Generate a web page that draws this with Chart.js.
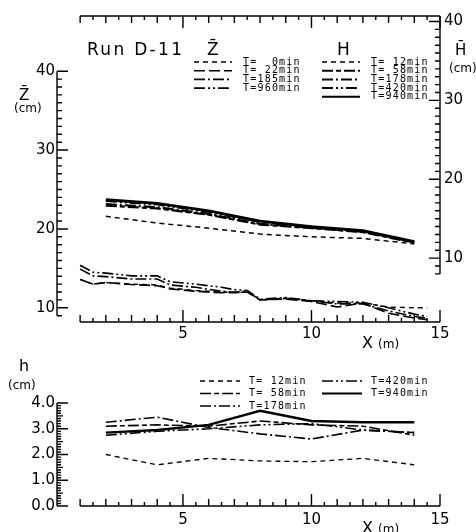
<!DOCTYPE html>
<html>
<head>
<meta charset="utf-8">
<title>Run D-11</title>
<script src="https://cdn.jsdelivr.net/npm/chart.js@4.4.1/dist/chart.umd.min.js"></script>
<style>
    html, body { margin: 0; padding: 0; background: #fff; }
    body { position: relative; width: 476px; height: 532px; overflow: hidden; }
    .panel { position: absolute; left: 0; width: 476px; }
    #topPanel { top: 0; height: 345px; }
    #botPanel { top: 345px; height: 187px; }
    .lbl { position: absolute; font-family: "DejaVu Sans", sans-serif; color: #000; white-space: pre; line-height: 1; }
</style>
</head>
<body>
<div class="panel" id="topPanel"><canvas id="topChart"></canvas></div>
<div class="panel" id="botPanel"><canvas id="botChart"></canvas></div>

<div class="lbl" style="left:87px; top:41px; font-size:17px; letter-spacing:2.3px;">Run D-11</div>
<div class="lbl" style="left:207px; top:41px; font-size:17px;">Z̄</div>
<div class="lbl" style="left:337px; top:41px; font-size:17px;">H</div>
<div class="lbl" style="left:455px; top:43px; font-size:15px;">H̄</div>
<div class="lbl" style="left:449px; top:62px; font-size:12px;">(cm)</div>
<div class="lbl" style="left:19px; top:88px; font-size:15px;">Z̄</div>
<div class="lbl" style="left:14px; top:102px; font-size:12px;">(cm)</div>
<div class="lbl" style="left:362px; top:335px; font-size:16px;">X <span style="font-size:12px">(m)</span></div>
<div class="lbl" style="left:19px; top:358px; font-size:16px;">h</div>
<div class="lbl" style="left:8px; top:379px; font-size:12px;">(cm)</div>
<div class="lbl" style="left:362px; top:520px; font-size:16px;">X <span style="font-size:12px">(m)</span></div>

<script>
// ====== Data ======
// bed elevation Z (cm), left axis of the upper panel
const zX = [1, 1.5, 2, 3, 4, 4.5, 5.5, 6.5, 7, 7.5, 8, 9, 10, 11, 12, 13, 14, 14.5];
const zTimes = [0, 22, 185, 960];
const zT0   = [13.6, 13.0, 13.2, 13.0, 12.9, 12.5, 12.2, 12.0, 11.95, 12.0, 11.0, 11.2, 10.9, 10.6, 10.6, 10.1, 10.0, 10.0];
const zT22  = [13.6, 13.0, 13.2, 12.95, 12.8, 12.4, 12.1, 11.9, 11.9, 12.0, 11.0, 11.1, 10.8, 10.1, 10.6, 9.3, 8.7, 8.5];
const zT185 = [14.9, 14.05, 13.95, 13.65, 13.65, 12.9, 12.6, 12.1, 12.0, 12.1, 11.0, 11.2, 10.85, 10.5, 10.5, 9.6, 8.9, 8.7];
const zT960 = [15.4, 14.5, 14.4, 14.05, 14.05, 13.3, 13.0, 12.6, 12.3, 12.2, 11.1, 11.3, 10.9, 10.8, 10.7, 10.0, 9.2, 8.9];

// water surface H (cm), right axis of the upper panel
const hX = [2, 4, 6, 8, 10, 12, 14];
const hTimes = [12, 58, 178, 420, 940];
const hT12  = [15.3, 14.45, 13.8, 13.05, 12.7, 12.5, 11.8];
const hT58  = [16.65, 16.3, 15.5, 14.25, 13.8, 13.3, 11.95];
const hT178 = [16.85, 16.45, 15.6, 14.35, 13.85, 13.35, 12.0];
const hT420 = [17.25, 16.8, 15.85, 14.6, 13.95, 13.4, 12.0];
const hT940 = [17.4, 16.95, 16.0, 14.7, 14.0, 13.5, 12.1];

// water depth h (cm), lower panel
const dT12  = [2.0, 1.6, 1.85, 1.75, 1.72, 1.85, 1.6];
const dT58  = [3.1, 3.15, 3.1, 3.3, 3.15, 3.1, 2.75];
const dT178 = [3.25, 3.45, 3.05, 2.8, 2.6, 2.95, 2.85];
const dT420 = [2.75, 2.9, 3.0, 3.15, 3.2, 2.95, 2.85];
const dT940 = [2.85, 2.95, 3.15, 3.7, 3.3, 3.25, 3.25];

// tick labels
const xTicks = [5, 10, 15];
const zTicks = [10, 20, 30, 40];
const hTicks = [10, 20, 30, 40];
const depthTicks = [0, 1, 2, 3, 4];

// ====== Styles ======
const FONT = "'DejaVu Sans', sans-serif";
Chart.defaults.font.family = FONT;
Chart.defaults.color = "#000";

const DASH = {
    short: [5, 4],
    long: [11, 4],
    longShort: [11, 3, 5, 3],
    dashDot: [11, 3, 2, 3],
    dashDotDot: [11, 3, 2, 3, 2, 3],
    solid: []
};

const tLabel = (t) => "T=" + String(t).padStart(3, " ") + "min";
const pts = (xs, ys) => xs.map((x, i) => ({ x, y: ys[i] }));

function series(label, xs, ys, dash, width, axis) {
    return {
        label,
        data: pts(xs, ys),
        borderColor: "#000",
        backgroundColor: "#000",
        borderWidth: width,
        borderDash: dash,
        pointRadius: 0,
        tension: 0,
        fill: false,
        yAxisID: axis
    };
}

// ====== Plugins ======
// inward tick marks and axis lines
function tickLen(v, steps) {
    for (const [s, len] of steps) {
        if (Math.abs(v / s - Math.round(v / s)) < 1e-6) return len;
    }
    return 0;
}

const axisFrame = {
    id: "axisFrame",
    afterDatasetsDraw(chart, args, opts) {
        const ctx = chart.ctx;
        const area = chart.chartArea;
        const xs = chart.scales.x;
        ctx.save();
        ctx.strokeStyle = "#000";
        ctx.lineWidth = 1.4;
        ctx.setLineDash([]);

        (opts.xLines || []).forEach((ax) => {
            const y0 = ax.edge === "top" ? area.top : area.bottom;
            ctx.beginPath();
            ctx.moveTo(xs.getPixelForValue(ax.from), y0);
            ctx.lineTo(xs.getPixelForValue(ax.to), y0);
            for (let i = Math.round(ax.from / ax.step); i <= Math.round(ax.to / ax.step); i++) {
                const v = i * ax.step;
                const px = xs.getPixelForValue(v);
                ctx.moveTo(px, y0);
                ctx.lineTo(px, y0 + ax.dir * tickLen(v, ax.steps));
            }
            ctx.stroke();
        });

        (opts.yLines || []).forEach((ax) => {
            const sc = chart.scales[ax.scale];
            const x0 = ax.edge === "left" ? area.left : area.right;
            ctx.beginPath();
            ctx.moveTo(x0, sc.getPixelForValue(ax.from));
            ctx.lineTo(x0, ax.toTop ? area.top : sc.getPixelForValue(ax.to));
            for (let i = Math.round(ax.from / ax.step); i <= Math.round(ax.to / ax.step); i++) {
                const v = i * ax.step;
                const py = sc.getPixelForValue(v);
                ctx.moveTo(x0, py);
                ctx.lineTo(x0 + ax.dir * tickLen(v, ax.steps), py);
            }
            ctx.stroke();
        });
        ctx.restore();
    }
};

// legend drawn from the datasets' own labels and dash styles
const lineLegend = {
    id: "lineLegend",
    afterDraw(chart, args, opts) {
        const ctx = chart.ctx;
        (opts.columns || []).forEach((col) => {
            col.items.forEach((di, row) => {
                const ds = chart.data.datasets[di];
                const y = col.y + row * opts.rowGap;
                ctx.save();
                ctx.strokeStyle = ds.borderColor;
                ctx.lineWidth = Math.min(ds.borderWidth, 2);
                ctx.setLineDash(ds.borderDash || []);
                ctx.beginPath();
                ctx.moveTo(col.x, y);
                ctx.lineTo(col.x + opts.lineLen, y);
                ctx.stroke();
                ctx.setLineDash([]);
                ctx.font = opts.font;
                if ("letterSpacing" in ctx) ctx.letterSpacing = opts.spacing;
                ctx.fillStyle = "#000";
                ctx.textBaseline = "middle";
                ctx.fillText(ds.label, col.x + opts.lineLen + opts.gap, y);
                ctx.restore();
            });
        });
    }
};

function fixedTicks(values) {
    return (scale) => {
        scale.ticks = values.map((v) => ({ value: v }));
    };
}

const X_STEPS = [[5, 12], [1, 7], [0.5, 4]];
const NO_GRID = { display: false, drawTicks: false };

function xScale(height, pad) {
    return {
        type: "linear",
        min: 0.1,
        max: 15,
        afterBuildTicks: fixedTicks(xTicks),
        afterFit: (s) => { s.height = height; },
        grid: NO_GRID,
        border: { display: false },
        ticks: { padding: pad, font: { size: 15 }, autoSkip: false, maxRotation: 0 }
    };
}

// ====== Upper panel ======
const topChart = new Chart(document.getElementById("topChart"), {
    type: "line",
    data: {
        datasets: [
            series(tLabel(zTimes[0]), zX, zT0, DASH.short, 1.4, "z"),
            series(tLabel(zTimes[1]), zX, zT22, DASH.long, 1.6, "z"),
            series(tLabel(zTimes[2]), zX, zT185, DASH.dashDot, 1.6, "z"),
            series(tLabel(zTimes[3]), zX, zT960, DASH.dashDotDot, 1.6, "z"),
            series(tLabel(hTimes[0]), hX, hT12, DASH.short, 1.5, "h"),
            series(tLabel(hTimes[1]), hX, hT58, DASH.longShort, 2.2, "h"),
            series(tLabel(hTimes[2]), hX, hT178, DASH.dashDot, 2.2, "h"),
            series(tLabel(hTimes[3]), hX, hT420, DASH.dashDotDot, 2.2, "h"),
            series(tLabel(hTimes[4]), hX, hT940, DASH.solid, 2.8, "h")
        ]
    },
    options: {
        responsive: true,
        maintainAspectRatio: false,
        animation: false,
        devicePixelRatio: 1,
        layout: { padding: { top: 16, left: 0, right: 0, bottom: 0 } },
        plugins: {
            legend: { display: false },
            tooltip: { enabled: false },
            axisFrame: {
                xLines: [
                    { edge: "bottom", dir: -1, from: 1, to: 15, step: 0.5, steps: X_STEPS },
                    { edge: "top", dir: 1, from: 1, to: 15, step: 0.5, steps: X_STEPS }
                ],
                yLines: [
                    { scale: "z", edge: "left", dir: 1, from: 9, to: 40, step: 1, steps: [[10, 11], [1, 5]] },
                    { scale: "h", edge: "right", dir: -1, from: 8, to: 40, toTop: true, step: 1, steps: [[10, 11], [1, 5]] }
                ]
            },
            lineLegend: {
                font: "10px 'DejaVu Sans Mono', monospace",
                spacing: "1.2px",
                rowGap: 8.7,
                lineLen: 38,
                gap: 11,
                columns: [
                    { x: 194, y: 62, items: [0, 1, 2, 3] },
                    { x: 322, y: 62, items: [4, 5, 6, 7, 8] }
                ]
            }
        },
        scales: {
            x: xScale(23, 3),
            z: {
                type: "linear",
                position: "left",
                min: 8.2,
                max: 47,
                afterBuildTicks: fixedTicks(zTicks),
                afterFit: (s) => { s.width = 57; },
                grid: NO_GRID,
                border: { display: false },
                ticks: { padding: 2, font: { size: 15 } }
            },
            h: {
                type: "linear",
                position: "right",
                min: 1.9,
                max: 40.7,
                afterBuildTicks: fixedTicks(hTicks),
                afterFit: (s) => { s.width = 36; },
                grid: NO_GRID,
                border: { display: false },
                ticks: { padding: 4, font: { size: 15 } }
            }
        }
    },
    plugins: [axisFrame, lineLegend]
});

// ====== Lower panel ======
const botChart = new Chart(document.getElementById("botChart"), {
    type: "line",
    data: {
        datasets: [
            series(tLabel(hTimes[0]), hX, dT12, DASH.short, 1.3, "y"),
            series(tLabel(hTimes[1]), hX, dT58, DASH.longShort, 1.6, "y"),
            series(tLabel(hTimes[2]), hX, dT178, DASH.dashDot, 1.6, "y"),
            series(tLabel(hTimes[3]), hX, dT420, DASH.dashDotDot, 1.6, "y"),
            series(tLabel(hTimes[4]), hX, dT940, DASH.solid, 2.4, "y")
        ]
    },
    options: {
        responsive: true,
        maintainAspectRatio: false,
        animation: false,
        devicePixelRatio: 1,
        layout: { padding: { top: 58, left: 0, right: 36, bottom: 0 } },
        plugins: {
            legend: { display: false },
            tooltip: { enabled: false },
            axisFrame: {
                xLines: [
                    { edge: "bottom", dir: -1, from: 1, to: 15, step: 0.5, steps: X_STEPS }
                ],
                yLines: [
                    { scale: "y", edge: "left", dir: 1, from: 0, to: 4, step: 0.1, steps: [[1, 11], [0.5, 6], [0.1, 4]] }
                ]
            },
            lineLegend: {
                font: "10px 'DejaVu Sans Mono', monospace",
                spacing: "1.2px",
                rowGap: 12.5,
                lineLen: 40,
                gap: 9,
                columns: [
                    { x: 200, y: 36, items: [0, 1, 2] },
                    { x: 322, y: 36, items: [3, 4] }
                ]
            }
        },
        scales: {
            x: xScale(26, 5),
            y: {
                type: "linear",
                position: "left",
                min: 0,
                max: 4,
                afterBuildTicks: fixedTicks(depthTicks),
                afterFit: (s) => { s.width = 57; },
                grid: NO_GRID,
                border: { display: false },
                ticks: {
                    padding: 2,
                    font: { size: 15 },
                    callback: (v) => Number(v).toFixed(1)
                }
            }
        }
    },
    plugins: [axisFrame, lineLegend]
});
</script>
</body>
</html>
